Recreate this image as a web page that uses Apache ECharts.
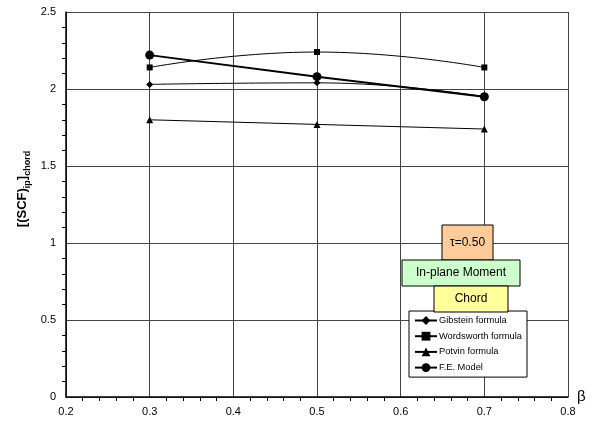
<!DOCTYPE html>
<html><head><meta charset="utf-8">
<script src="https://cdn.jsdelivr.net/npm/echarts@6/dist/echarts.min.js"></script>
<style>html,body{margin:0;padding:0;background:#fff}#c{width:592px;height:430px}</style>
</head><body><div id="c"></div>
<script>
var beta = [0.3, 0.5, 0.7];
var gibstein = [2.03, 2.04, 1.95];
var wordsworth = [2.14, 2.24, 2.14];
var potvin = [1.80, 1.77, 1.74];
var feModel = [2.22, 2.08, 1.95];
var seriesNames = ['Gibstein formula', 'Wordsworth formula', 'Potvin formula', 'F.E. Model'];

function pairs(v) { return beta.map(function (b, i) { return [b, v[i]]; }); }
var F = 'Liberation Sans, Arial, sans-serif';
var chart = echarts.init(document.getElementById('c'));
chart.setOption({
  animation: false,
  backgroundColor: '#fff',
  grid: { left: 66, right: 24, top: 12, bottom: 33 },
  xAxis: {
    type: 'value', min: 0.2, max: 0.8, interval: 0.1,
    name: 'β', nameLocation: 'end', nameGap: 9,
    nameTextStyle: { fontFamily: F, fontSize: 15, color: '#000', padding: [10, 0, 0, 0] },
    axisLine: { show: true, lineStyle: { color: '#000', width: 1.5 } },
    axisTick: { show: false },
    minorTick: { show: true, splitNumber: 5, length: 4, lineStyle: { color: '#000' } },
    axisLabel: { fontFamily: F, fontSize: 11, color: '#000', margin: 9, formatter: function (v) { return v.toFixed(1); } },
    splitLine: { show: true, lineStyle: { color: '#444', width: 1 } }
  },
  yAxis: {
    type: 'value', min: 0, max: 2.5, interval: 0.5,
    axisLine: { show: true, lineStyle: { color: '#000', width: 1.5 } },
    axisTick: { show: false },
    minorTick: { show: true, splitNumber: 5, length: 4, lineStyle: { color: '#000' } },
    axisLabel: { fontFamily: F, fontSize: 11, color: '#000', margin: 10 },
    splitLine: { show: true, lineStyle: { color: '#444', width: 1 } }
  },
  legend: {
    data: seriesNames,
    orient: 'vertical', left: 409, top: 311,
    backgroundColor: '#fff', borderColor: '#000', borderWidth: 1,
    padding: [5, 5, 5, 5], itemGap: 6.7, itemWidth: 22, itemHeight: 11,
    textStyle: { fontFamily: F, fontSize: 9.3, color: '#000', padding: [0, 0, 0, -3] }
  },
  series: [
    { name: seriesNames[0], type: 'line', smooth: 0.5, data: pairs(gibstein), symbol: 'diamond', symbolSize: 7,
      itemStyle: { color: '#000' }, lineStyle: { color: '#000', width: 1 } },
    { name: seriesNames[1], type: 'line', smooth: 0.5, data: pairs(wordsworth), symbol: 'rect', symbolSize: 6,
      itemStyle: { color: '#000' }, lineStyle: { color: '#000', width: 1 } },
    { name: seriesNames[2], type: 'line', data: pairs(potvin), symbol: 'triangle', symbolSize: 7,
      itemStyle: { color: '#000' }, lineStyle: { color: '#000', width: 1 } },
    { name: seriesNames[3], type: 'line', data: pairs(feModel), symbol: 'circle', symbolSize: 9,
      itemStyle: { color: '#000' }, lineStyle: { color: '#000', width: 2 } }
  ],
  graphic: [
    { type: 'text', x: 23, y: 189, rotation: Math.PI / 2,
      style: { text: '{b|[(SCF)}{s|ip}{b|]}{s|chord}', textAlign: 'center', textVerticalAlign: 'middle',
        rich: {
          b: { fontFamily: F, fontSize: 13, fontWeight: 'bold', fill: '#000', lineHeight: 14, verticalAlign: 'top' },
          s: { fontFamily: F, fontSize: 9, fontWeight: 'bold', fill: '#000', lineHeight: 9, padding: [7, 0, 0, 0], verticalAlign: 'top' }
        } } },
    { type: 'rect', shape: { x: 442, y: 225, width: 51, height: 35 }, style: { fill: '#FFCC99', stroke: '#000', lineWidth: 1 }, z: 10 },
    { type: 'text', x: 467.5, y: 243, style: { text: 'τ=0.50', font: '12px ' + F, fill: '#000', textAlign: 'center', textVerticalAlign: 'middle' }, z: 11 },
    { type: 'rect', shape: { x: 402, y: 260, width: 118, height: 26 }, style: { fill: '#CCFFCC', stroke: '#000', lineWidth: 1 }, z: 10 },
    { type: 'text', x: 461, y: 273, style: { text: 'In-plane Moment', font: '12px ' + F, fill: '#000', textAlign: 'center', textVerticalAlign: 'middle' }, z: 11 },
    { type: 'rect', shape: { x: 434, y: 286, width: 74, height: 26 }, style: { fill: '#FFFF99', stroke: '#000', lineWidth: 1 }, z: 10 },
    { type: 'text', x: 471, y: 299, style: { text: 'Chord', font: '12px ' + F, fill: '#000', textAlign: 'center', textVerticalAlign: 'middle' }, z: 11 }
  ]
});
</script>
</body></html>
